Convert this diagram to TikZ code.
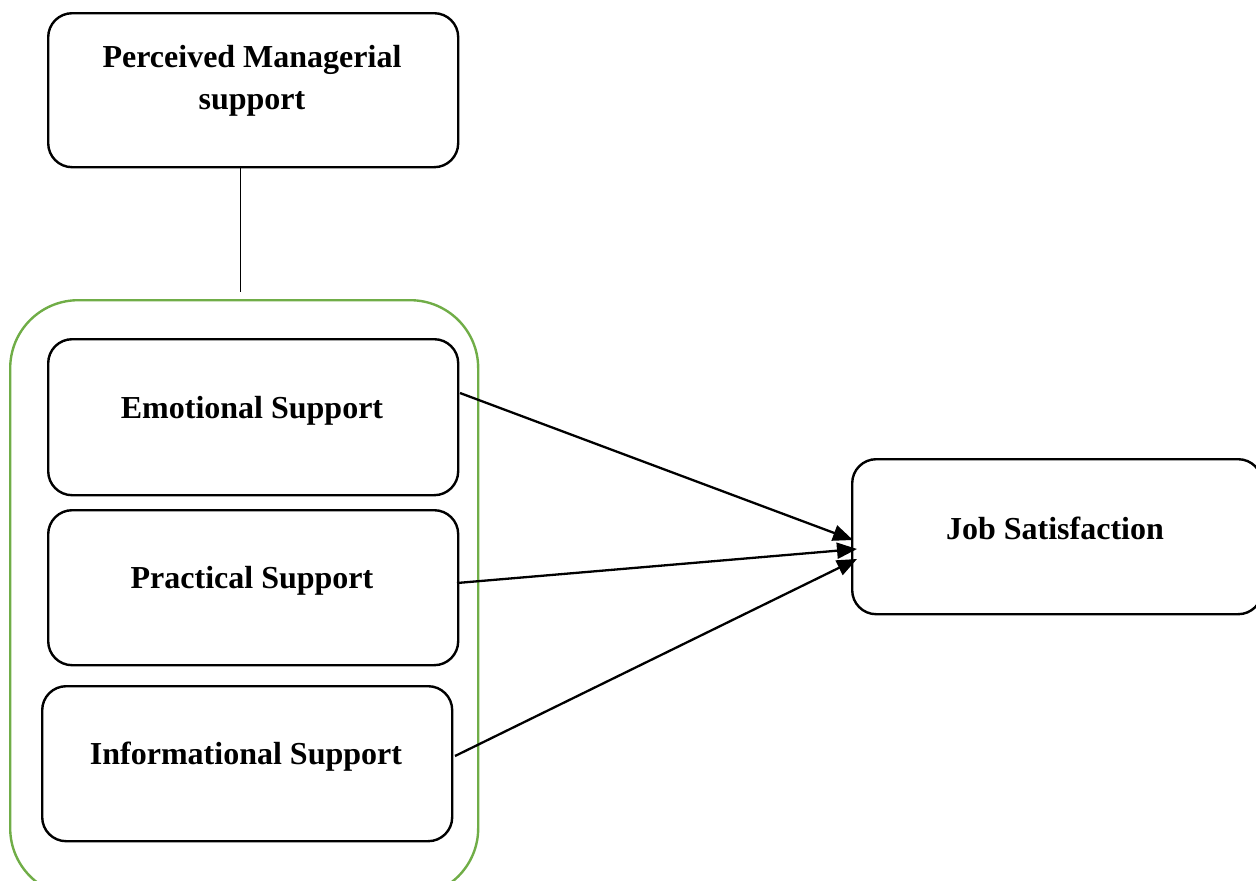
\documentclass[tikz,border=0pt]{standalone}
\usepackage{fontspec}
\setmainfont{Liberation Serif}
\usetikzlibrary{arrows.meta}
\begin{document}
\begin{tikzpicture}[x=1pt,y=-1pt,
  box/.style={draw=black,line width=2.4pt,rounded corners=24pt,fill=white,inner sep=0pt},
  lbl/.style={font=\fontsize{32}{42}\selectfont\bfseries,align=center,inner sep=0pt},
  grp/.style={draw={rgb,255:red,112;green,173;blue,71},line width=2.4pt,rounded corners=68pt},
  arr/.style={line width=2.3pt,-{Triangle[length=20pt,width=16pt]}}]
\useasboundingbox (0,0) rectangle (1256,881);
\begin{scope}
\clip (0,0) rectangle (1256,881);
\node[grp,minimum width=468pt,minimum height=596pt,anchor=north west] (g) at (9,299) {};
\node[box,minimum width=410pt,minimum height=154pt,anchor=north west] (pm) at (47,12) {};
\node[lbl] (pmt) at (252,81) {Perceived Managerial\\support};
\node[box,minimum width=410pt,minimum height=156pt,anchor=north west] (es) at (47,338) {};
\node[lbl] (est) at (252,411) {Emotional Support};
\node[box,minimum width=410pt,minimum height=155pt,anchor=north west] (ps) at (47,509) {};
\node[lbl] (pst) at (252,581) {Practical Support};
\node[box,minimum width=410pt,minimum height=155pt,anchor=north west] (is) at (41,685) {};
\node[lbl] (ist) at (246,757) {Informational Support};
\node[box,minimum width=410pt,minimum height=155pt,anchor=north west] (js) at (851,458) {};
\node[lbl] (jst) at (1055,528) {Job Satisfaction};
\coordinate (pmb) at (240,292);
\draw[line width=1pt] (pm.south -| pmb) -- (pmb);
\coordinate (e1) at (460,393);
\coordinate (e2) at (457,583);
\coordinate (e3) at (455,756);
\coordinate (j1) at (853,540);
\coordinate (j2) at (857,549);
\coordinate (j3) at (857,559);
\draw[arr] (e1) -- (j1);
\draw[arr] (e2) -- (j2);
\draw[arr] (e3) -- (j3);
\end{scope}
\end{tikzpicture}
\end{document}
